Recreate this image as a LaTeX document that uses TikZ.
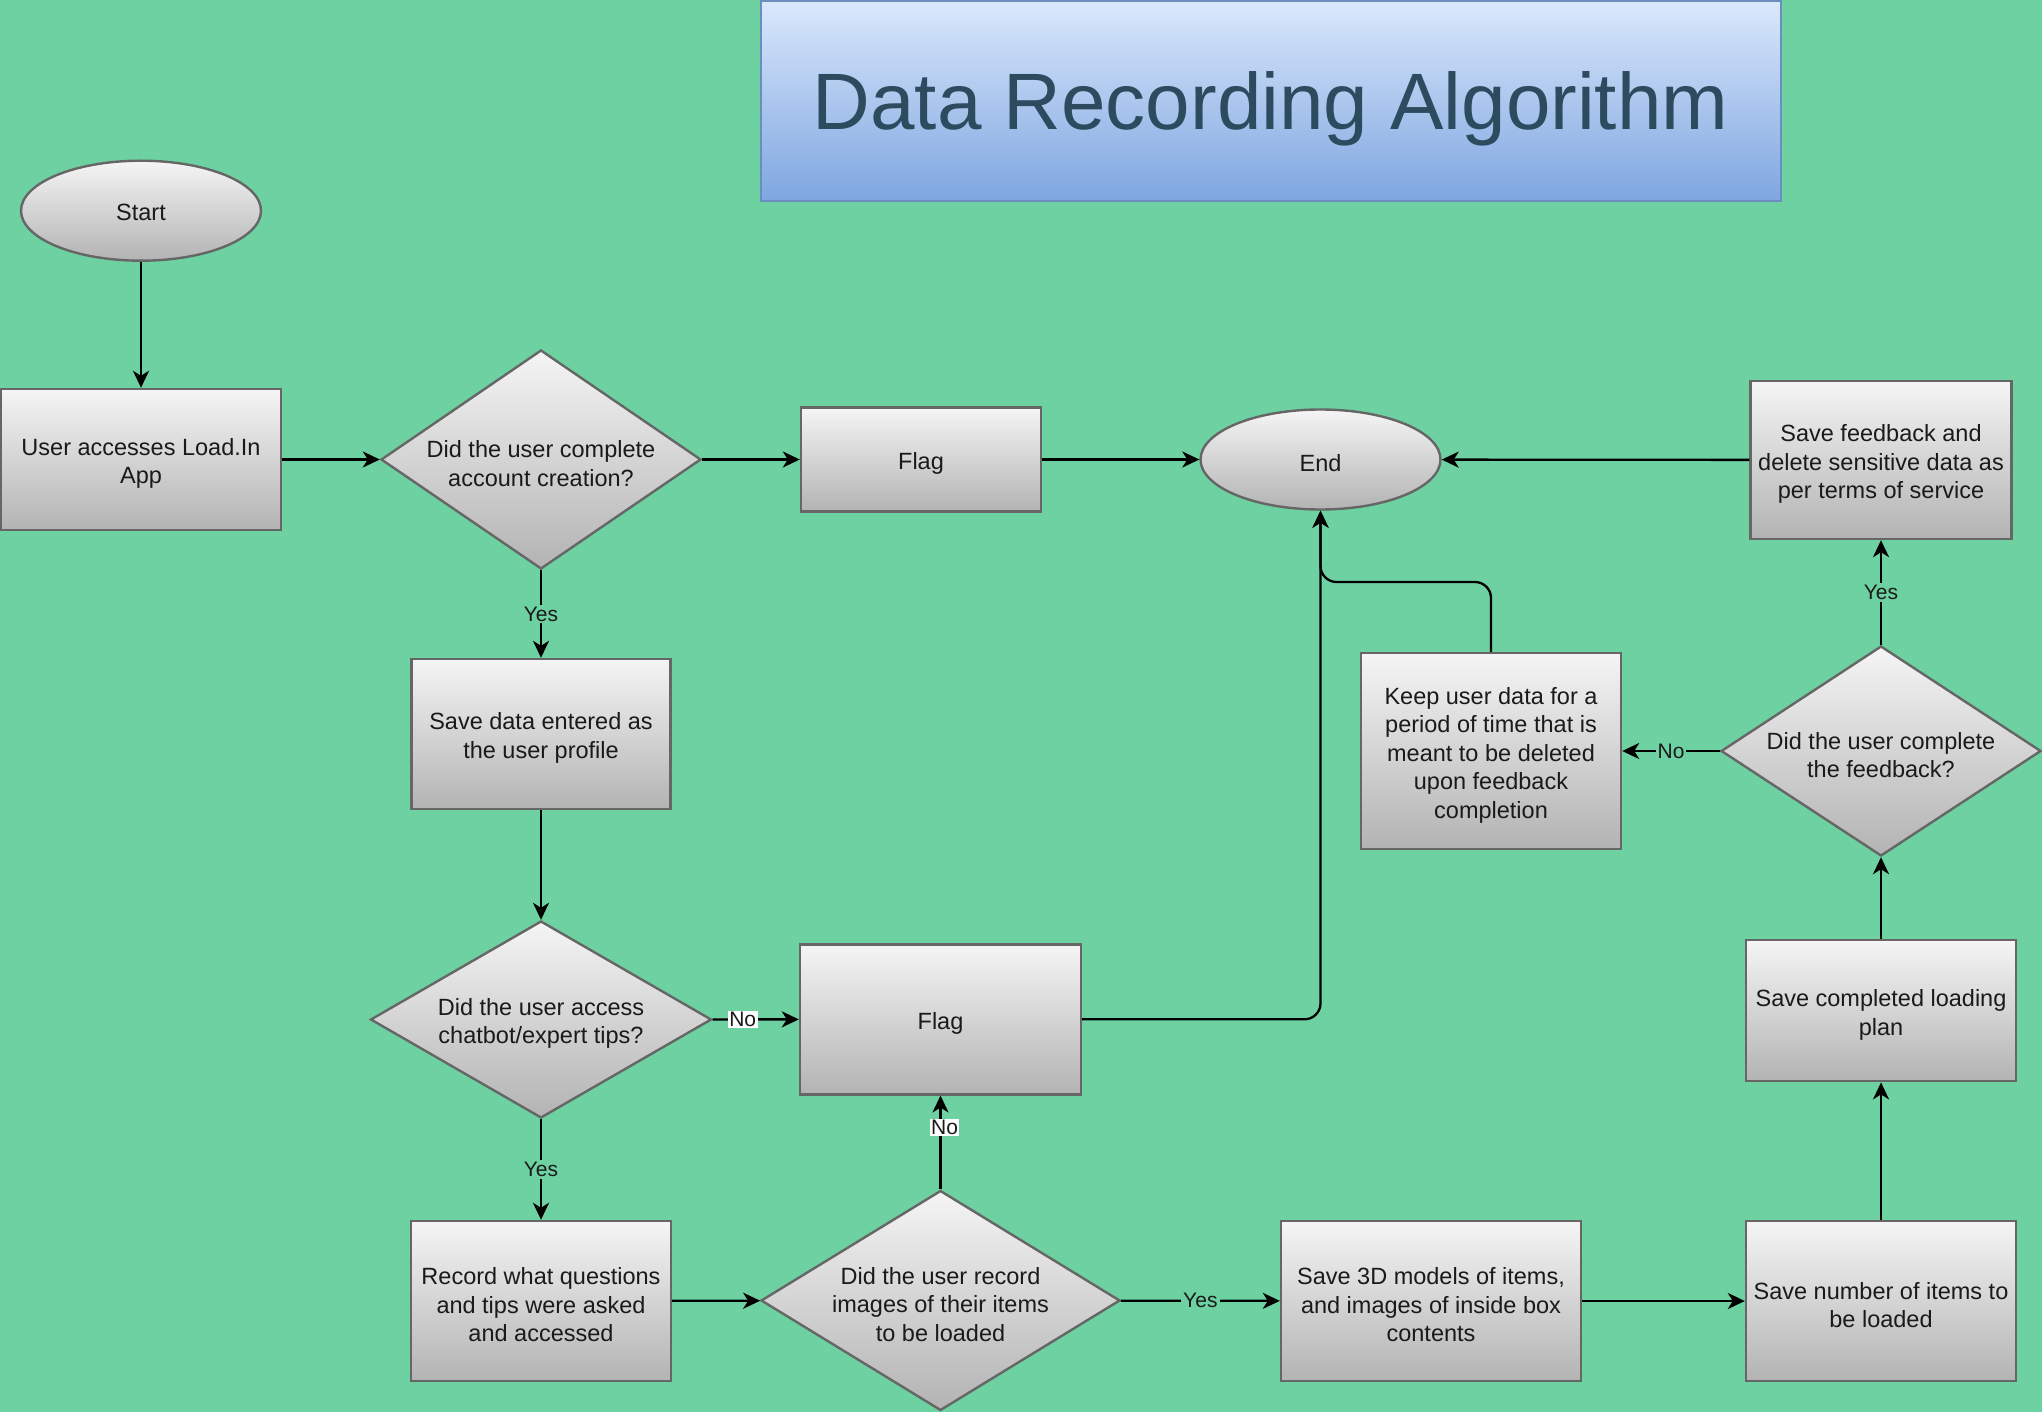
\documentclass[tikz,border=0pt]{standalone}
\usepackage{fontspec}
\setmainfont{Liberation Sans}
\usetikzlibrary{shapes.geometric,arrows.meta}
\definecolor{bg}{HTML}{6DD1A1}
\definecolor{gtop}{HTML}{F5F5F5}
\definecolor{gbot}{HTML}{B3B3B3}
\definecolor{gstroke}{HTML}{666666}
\definecolor{ttop}{HTML}{DAE8FC}
\definecolor{tbot}{HTML}{7EA6E0}
\definecolor{tstroke}{HTML}{6C8EBF}
\definecolor{titlec}{HTML}{2D4B5E}
\definecolor{txt}{HTML}{1A1A1A}
\newcommand{\mainfs}{\fontsize{23.5}{28.5}\selectfont}
\newcommand{\lblfs}{\fontsize{21}{24}\selectfont}
\newcommand{\titlefs}{\fontsize{80}{90}\selectfont}
\newcommand{\topst}{\rule{0pt}{25pt}}
\begin{document}
\begin{tikzpicture}[x=1pt,y=-1pt,
  shp/.style={draw=gstroke, line width=2.4pt, top color=gtop, bottom color=gbot,
    inner sep=0pt, align=center, font=\mainfs, text=txt},
  box/.style={shp, rectangle},
  ell/.style={shp, ellipse},
  dia/.style={shp, diamond, inner sep=-20pt},
  arr/.style={-{Stealth[length=17pt,width=16pt,inset=5pt]}, line width=2.3pt, draw=black},
  lbl/.style={fill=bg, inner sep=2pt, font=\lblfs, text=txt},
  lblw/.style={fill=white, inner sep=1.5pt, font=\lblfs, text=txt}]
\fill[bg] (0,0) rectangle (2042,1412);
\useasboundingbox (0,0) rectangle (2042,1412);

% title
\node[draw=tstroke, line width=2pt, top color=ttop, bottom color=tbot,
  minimum width=1020pt, minimum height=200pt, inner sep=0pt, font=\titlefs, text=titlec]
  (title) at (1270.5,101) {\rule{0pt}{74pt}Data Recording Algorithm};

% nodes
\node[ell, minimum width=240pt, minimum height=100pt] (start) at (141,210.7) {\rule{0pt}{20pt}Start};
\node[box, minimum width=280pt, minimum height=141pt] (user) at (141,459.5) {\topst User accesses Load.In\\App};
\node[dia, minimum width=320pt, minimum height=219pt] (d1) at (541,459.5) {\topst Did the user complete\\account creation?};
\node[box, minimum width=240pt, minimum height=104pt] (flag1) at (921,459.5) {\topst Flag};
\node[ell, minimum width=240pt, minimum height=100pt] (endn) at (1320.5,459.5) {\topst End};
\node[box, minimum width=261pt, minimum height=158pt] (sfb) at (1881,460) {\topst Save feedback and\\delete sensitive data as\\per terms of service};
\node[dia, minimum width=320pt, minimum height=210pt] (df) at (1881,751) {\topst Did the user complete\\the feedback?};
\node[box, minimum width=260pt, minimum height=196pt] (keep) at (1491,751) {\topst Keep user data for a\\period of time that is\\meant to be deleted\\upon feedback\\completion};
\node[box, minimum width=259pt, minimum height=150pt] (sdata) at (541,734) {\topst Save data entered as\\the user profile};
\node[dia, minimum width=341pt, minimum height=197pt] (d2) at (541,1019.5) {\topst Did the user access\\chatbot/expert tips?};
\node[box, minimum width=281pt, minimum height=150pt] (flag2) at (940.5,1019.3) {\topst Flag};
\node[box, minimum width=260pt, minimum height=160pt] (rec) at (541,1301) {\topst Record what questions\\and tips were asked\\and accessed};
\node[dia, minimum width=359pt, minimum height=220pt] (d3) at (940.5,1300.5) {\topst Did the user record\\images of their items\\to be loaded};
\node[box, minimum width=300pt, minimum height=160pt] (s3d) at (1431,1301) {\topst Save 3D models of items,\\and images of inside box\\contents};
\node[box, minimum width=270pt, minimum height=160pt] (snum) at (1881,1301) {\topst Save number of items to\\be loaded};
\node[box, minimum width=270pt, minimum height=141pt] (scomp) at (1881,1010.7) {\topst Save completed loading\\plan};

% connectors
\draw[arr] (start) -- (user);
\draw[arr] (user) -- (d1);
\draw[arr] (d1) -- (flag1);
\draw[arr] (flag1) -- (endn);
\draw[arr] (d1) -- node[lbl] {Yes} (sdata);
\draw[arr] (sdata) -- (d2);
\draw[arr] (d2) -- node[lblw, pos=0.35] {No} (flag2);
\draw[arr] (d2) -- node[lbl] {Yes} (rec);
\draw[arr] (rec) -- (d3);
\draw[arr] (d3) -- node[lblw, pos=0.66, xshift=4pt] {No} (flag2);
\draw[arr] (d3) -- node[lbl] {Yes} (s3d);
\draw[arr] (s3d) -- (snum);
\draw[arr] (snum) -- (scomp);
\draw[arr] (scomp) -- (df);
\draw[arr] (df) -- node[lbl] {Yes} (sfb);
\draw[arr] (df) -- node[lbl] {No} (keep);
\draw[arr] (sfb) -- (endn);
\coordinate (kc) at (1320.5,582);
\draw[arr, rounded corners=16pt] (keep.north) |- (kc) -- (endn.south);
\draw[arr, rounded corners=16pt] (flag2.east) -| (endn.south);
\end{tikzpicture}
\end{document}
